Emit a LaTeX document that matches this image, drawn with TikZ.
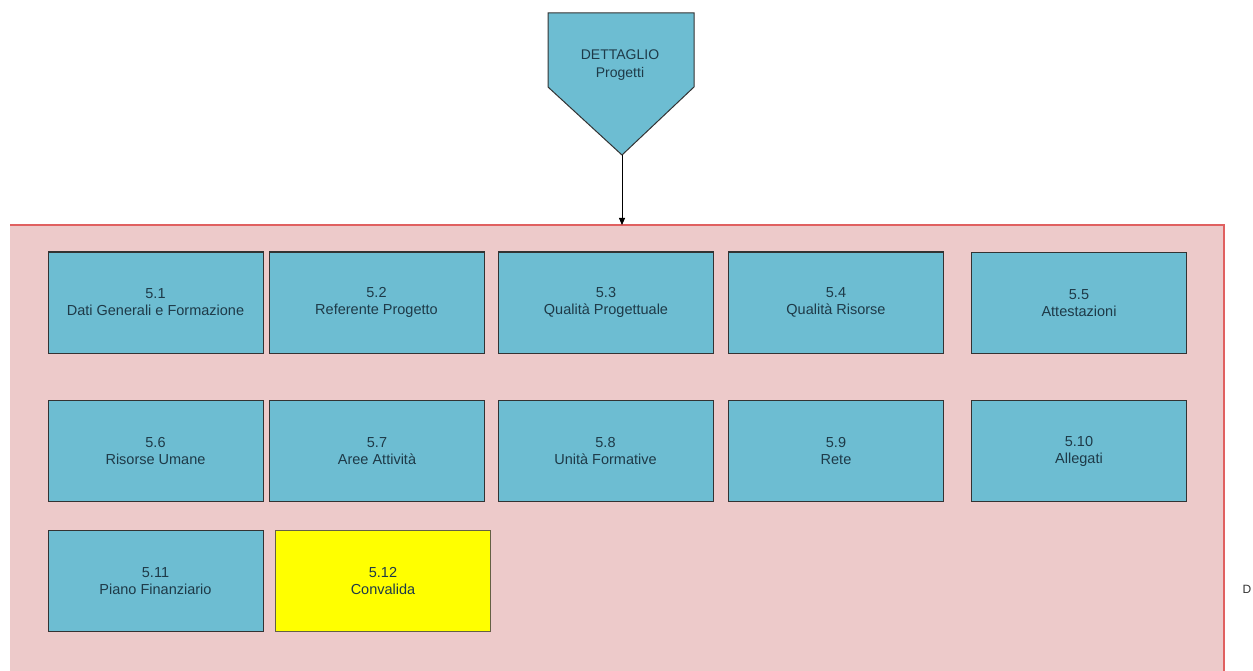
\documentclass[tikz,border=0pt]{standalone}
\usepackage{fontspec}
\setmainfont{Liberation Sans}
\usetikzlibrary{arrows.meta}
\definecolor{boxblue}{HTML}{6DBDD2}
\definecolor{pinkbg}{HTML}{EDCACA}
\definecolor{redline}{HTML}{E06060}
\definecolor{txt}{HTML}{1E3A48}
\definecolor{ylw}{HTML}{FFFF00}
\tikzset{
  cell/.style={draw=black!80, line width=1pt, fill=boxblue, minimum width=215pt, minimum height=101pt, inner sep=0pt, align=center, font=\fontsize{14.5}{17}\selectfont, text=txt},
  cellyellow/.style={cell, fill=ylw, draw=black!70!yellow},
  conn/.style={draw=black, line width=0.8pt, -{Triangle[length=7pt,width=6pt]}}
}
\begin{document}
\begin{tikzpicture}[x=1pt,y=-1pt]
\useasboundingbox (0,0) rectangle (1253,671);
\fill[white] (0,0) rectangle (1253,671);
% container
\filldraw[fill=pinkbg, draw=redline, line width=1.2pt] (10,225) -- (1224,225) -- (1224,675) -- (10,675);
\node[inner sep=0pt, anchor=north west] (bigbox) at (10,225) {};
\coordinate (ctop) at (622,225);
% pentagon
\filldraw[fill=boxblue, draw=black!80, line width=1pt] (548,13) -- (694,13) -- (694,87) -- (622,155) -- (548,87) -- cycle;
\node[align=center, font=\fontsize{14}{18}\selectfont, text=txt] (dett) at (620,65) {DETTAGLIO\\Progetti};
\coordinate (tip) at (622,155);
\draw[conn] (tip) -- (ctop);
% row 1
\node[cell] (b1) at (155.5,302.5) {5.1\\Dati Generali e Formazione};
\node[cell] (b2) at (376.5,302.5) {5.2\\Referente Progetto};
\node[cell] (b3) at (606,302.5) {5.3\\Qualità Progettuale};
\node[cell] (b4) at (836,302.5) {5.4\\Qualità Risorse};
\node[cell] (b5) at (1079,303) {5.5\\Attestazioni};
% row 2
\node[cell] (b6) at (155.5,451) {5.6\\Risorse Umane};
\node[cell] (b7) at (377,451) {5.7\\Aree Attività};
\node[cell] (b8) at (605.5,451) {5.8\\Unità Formative};
\node[cell] (b9) at (836,451) {5.9\\Rete};
\node[cell] (b10) at (1079,451) {5.10\\Allegati};
% row 3
\node[cell] (b11) at (155.5,581) {5.11\\Piano Finanziario};
\node[cellyellow] (b12) at (383,581) {5.12\\Convalida};
% stray glyph
\node[font=\fontsize{12}{14}\selectfont, text=black!80, inner sep=0pt] (dglyph) at (1247,589) {D};
\end{tikzpicture}
\end{document}
